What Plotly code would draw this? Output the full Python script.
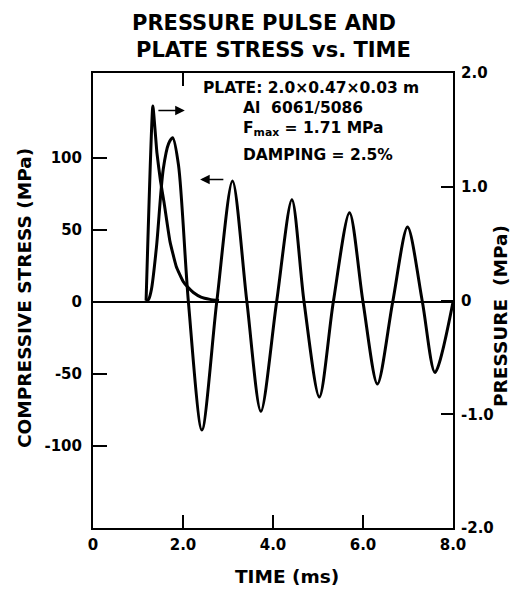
import plotly.graph_objects as go

# ---- data ----
stress_t = [1.18, 1.24, 1.30, 1.41, 1.56, 1.68, 1.77, 1.90, 2.12, 2.42, 2.75, 3.10, 3.42, 3.73,
            4.08, 4.42, 4.69, 5.03, 5.34, 5.70, 6.00, 6.32, 6.66, 6.99, 7.32, 7.60, 8.00]
stress_v = [0.0, 2.0, 9.0, 38.0, 92.0, 110.0, 114.0, 95.0, 0.0, -89.0, 0.0, 84.0, 0.0, -76.0,
            0.0, 71.0, 0.0, -66.0, 0.0, 62.0, 0.0, -57.0, 0.0, 52.0, 0.0, -49.0, 0.0]

pressure_t = [1.18, 1.33, 1.42, 1.50, 1.58, 1.71, 1.85, 2.00, 2.10, 2.23, 2.40, 2.60, 2.80]
pressure_v = [0.0, 1.71, 1.30, 1.05, 0.86, 0.52, 0.30, 0.17, 0.12, 0.07, 0.03, 0.01, 0.0]

x_ticks = [0, 2, 4, 6, 8]
x_ticklabels = ["0", "2.0", "4.0", "6.0", "8.0"]
stress_ticks = [-100, -50, 0, 50, 100]
stress_ticklabels = ["-100", "-50", "0", "50", "100"]
pressure_ticks = [-2, -1, 0, 1, 2]
pressure_ticklabels = ["-2.0", "-1.0", "0", "1.0", "2.0"]

# arrows (tail t, head t, stress-axis level)
pressure_arrow = (1.42, 2.04, 133)
stress_arrow = (2.93, 2.38, 85)

title_lines = ["PRESSURE PULSE AND", "PLATE STRESS vs. TIME"]
info_lines = ["PLATE: 2.0×0.47×0.03 m", "Al  6061/5086",
              "F<sub>max</sub> = 1.71 MPa", "DAMPING = 2.5%"]

FONT = "DejaVu Sans"
# page body has an 8px margin; plot area on screen spans x 93..453, y 73..528
PL, PR, PT, PB = 93, 453, 73, 528
def px(xp):
    return (xp - PL) / (PR - PL)
def py(yp):
    return (PB - yp) / (PB - PT)

fig = go.Figure()
fig.add_trace(go.Scatter(x=stress_t, y=stress_v, mode="lines",
                         line=dict(color="black", width=3, shape="spline", smoothing=0.8),
                         yaxis="y", showlegend=False, hoverinfo="skip"))
fig.add_trace(go.Scatter(x=pressure_t, y=pressure_v, mode="lines",
                         line=dict(color="black", width=3, shape="spline", smoothing=0.4),
                         yaxis="y2", showlegend=False, hoverinfo="skip"))
fig.add_trace(go.Scatter(x=[2], y=[0], xaxis="x2", mode="markers",
                         marker=dict(opacity=0), showlegend=False, hoverinfo="skip"))

tickfont = dict(family=FONT, size=15, color="black", weight="bold")
fig.update_layout(
    width=519, height=589,
    margin=dict(l=PL - 8, r=519 - PR + 8, t=PT - 8, b=589 - PB + 8),
    paper_bgcolor="white", plot_bgcolor="white",
    xaxis=dict(range=[0, 8], tickvals=x_ticks, ticktext=x_ticklabels,
               ticks="inside", ticklen=13, tickwidth=1.5, tickcolor="black",
               showline=True, linewidth=2, linecolor="black", mirror=True,
               showgrid=False, zeroline=False, tickfont=tickfont, ticklabelstandoff=2),
    xaxis2=dict(range=[0, 8], overlaying="x", side="top", tickvals=[2],
                ticks="inside", ticklen=13, tickwidth=1.5, tickcolor="black",
                showticklabels=False, showgrid=False, zeroline=False, showline=False),
    yaxis=dict(range=[-157, 159], tickvals=stress_ticks, ticktext=stress_ticklabels,
               ticks="inside", ticklen=14, tickwidth=1.5, tickcolor="black",
               showline=True, linewidth=2, linecolor="black",
               showgrid=False, zeroline=True, zerolinecolor="black", zerolinewidth=1.5,
               tickfont=tickfont, ticklabelstandoff=6),
    yaxis2=dict(range=[-2, 2], overlaying="y", side="right",
                tickvals=pressure_ticks, ticktext=pressure_ticklabels,
                ticks="inside", ticklen=12, tickwidth=1.5, tickcolor="black",
                showline=True, linewidth=2, linecolor="black",
                showgrid=False, zeroline=False, tickfont=tickfont, ticklabelstandoff=3),
)

# two-line title, each line centred where the reference puts it
title_font = dict(family=FONT, size=21, color="black", weight="bold")
for txt, (xc, yc) in zip(title_lines, [(264, 23), (273, 50)]):
    fig.add_annotation(text=txt, x=px(xc), y=py(yc), xref="paper", yref="paper",
                       showarrow=False, xanchor="center", yanchor="middle", font=title_font)

for tail, head, lvl in [pressure_arrow, stress_arrow]:
    fig.add_annotation(x=head, y=lvl, ax=tail, ay=lvl, xref="x", yref="y",
                       axref="x", ayref="y", text="", showarrow=True,
                       arrowhead=2, arrowsize=1.2, arrowwidth=1.6, arrowcolor="black")

info_pos = [(203, 88), (243, 108), (243, 129), (243, 155)]
for txt, (xp, yp) in zip(info_lines, info_pos):
    fig.add_annotation(x=px(xp), y=py(yp), xref="paper", yref="paper",
                       text=txt, showarrow=False, xanchor="left", yanchor="middle",
                       xshift=-2,
                       font=dict(family=FONT, size=15.5, color="black", weight="bold"))

axis_font = dict(family=FONT, size=18.5, color="black", weight="bold")
fig.add_annotation(text="COMPRESSIVE STRESS (MPa)", textangle=-90,
                   x=px(24), y=py(298), xref="paper", yref="paper",
                   showarrow=False, xanchor="center", yanchor="middle", font=axis_font)
fig.add_annotation(text="PRESSURE  (MPa)", textangle=-90,
                   x=px(500), y=py(316), xref="paper", yref="paper",
                   showarrow=False, xanchor="center", yanchor="middle", font=axis_font)
fig.add_annotation(text="TIME (ms)", x=px(287), y=py(576), xref="paper", yref="paper",
                   showarrow=False, xanchor="center", yanchor="middle", font=axis_font)

fig.write_html("out.html")
